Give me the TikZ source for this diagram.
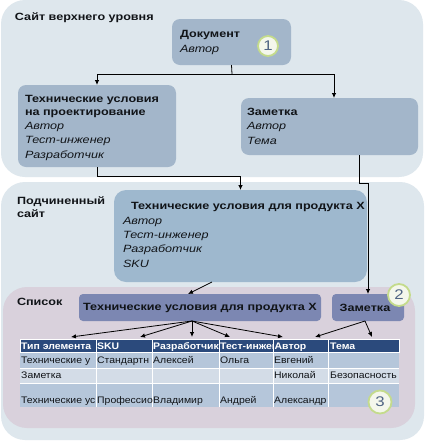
\documentclass[tikz,border=0pt]{standalone}
\usepackage{fontspec}
\setmainfont{Liberation Sans}[FakeStretch=1.2]
\newfontfamily\tblfont{Liberation Sans}[FakeStretch=1.1]
\usetikzlibrary{arrows.meta}
\definecolor{panel}{HTML}{DEE7ED}
\definecolor{listpanel}{HTML}{D9D1DC}
\definecolor{boxc}{HTML}{A3B6CA}
\definecolor{subc}{HTML}{9EB8CE}
\definecolor{listc}{HTML}{7C87B2}
\definecolor{headc}{HTML}{2B4A7C}
\definecolor{rowd}{HTML}{B5C6DA}
\definecolor{rowl}{HTML}{D3DCE7}
\definecolor{badgeline}{HTML}{C4DB8C}
\definecolor{badgefill}{HTML}{F4F7EC}
\definecolor{badgetext}{HTML}{506584}
\definecolor{ink}{HTML}{111418}
\begin{document}
\begin{tikzpicture}[x=1pt,y=-1pt,
  box/.style={draw=none,fill=boxc,rounded corners=8pt,inner sep=0pt,outer sep=0pt},
  txt/.style={inner sep=0pt,outer sep=0pt,align=left,text=ink,font=\fontsize{10.5}{14.3}\selectfont,anchor=base west},
  lbl/.style={inner sep=0pt,outer sep=0pt,align=left,text=ink,font=\fontsize{10.5}{13}\selectfont\bfseries,anchor=base west},
  badge/.style={circle,draw=badgeline,line width=1.8pt,fill=badgefill,inner sep=0pt,text=badgetext,font=\fontsize{14}{14}\selectfont},
  hcell/.style={fill=headc,draw=white,line width=0.6pt,inner sep=0pt,outer sep=0pt,minimum height=13pt},
  htxt/.style={inner sep=0pt,anchor=base west,text=white,font=\tblfont\fontsize{9.5}{10}\selectfont\bfseries},
  ctxt/.style={inner sep=0pt,anchor=base west,text=ink,font=\tblfont\fontsize{9.5}{10}\selectfont},
  conn/.style={line width=0.8pt,draw=black},
  arr/.style={conn,-{Latex[length=5pt,width=4.5pt]}}
]
\useasboundingbox (0,0) rectangle (424,445);
\fill[white] (0,0) rectangle (424,445);
% panels
\fill[panel,rounded corners=24pt] (1,0) rectangle (423,177);
\fill[panel,rounded corners=24pt] (1,182) rectangle (424,440);
\fill[listpanel,rounded corners=24pt] (3,287) rectangle (415,428);

% panel labels
\node[lbl] (ltop) at (15,20) {Сайт верхнего уровня};
\node[lbl] (lsub) at (17,217) {Подчиненный\\сайт};
\node[lbl] (llist) at (17,305) {Список};

% top boxes
\node[box,minimum width=119pt,minimum height=46pt] (doc) at (231.5,42) {};
\node[txt] (doct) at (180,52) {\textbf{Документ}\\\textit{Автор}};
\node[box,minimum width=158pt,minimum height=82pt] (tup) at (97,126) {};
\node[txt] (tupt) at (25,158) {\textbf{Технические условия}\\[-1.3pt]\textbf{на проектирование}\\\textit{Автор}\\\textit{Тест-инженер}\\\textit{Разработчик}};
\node[box,minimum width=177pt,minimum height=57pt] (zam) at (329.5,126.5) {};
\node[txt] (zamt) at (247,144) {\textbf{Заметка}\\\textit{Автор}\\\textit{Тема}};

% subsite box
\node[box,fill=subc,rounded corners=12pt,minimum width=253pt,minimum height=92pt] (sub) at (240.5,236) {};
\node[txt] (subh) at (131,209) {\textbf{Технические условия для продукта X}};
\node[txt] (subt) at (123,267) {\textit{Автор}\\\textit{Тест-инженер}\\\textit{Разработчик}\\\textit{SKU}};

% list boxes
\node[box,fill=listc,rounded corners=4pt,minimum width=242pt,minimum height=27pt,font=\fontsize{10.5}{12}\selectfont\bfseries,text=ink] (ltu) at (200,307.5) {Технические условия для продукта X};
\node[box,fill=listc,rounded corners=4pt,minimum width=72pt,minimum height=27pt] (lzam) at (368,307.5) {};
\node[lbl,anchor=base] (lzamt) at (365,311) {Заметка};

% table
\fill[rowd] (20,352) rectangle (399,368);
\fill[rowl] (20,368) rectangle (399,383);
\fill[rowd] (20,383) rectangle (399,407);
\draw[white,line width=0.6pt] (20,368) -- (399,368) (20,383) -- (399,383);
\foreach \x in {96,152,219,273,328} \draw[white,line width=0.6pt] (\x,352) -- (\x,407);

\node[hcell,minimum width=76pt] (h1) at (58,345.5) {};
\node[hcell,minimum width=56pt] (h2) at (124,345.5) {};
\node[hcell,minimum width=67pt] (h3) at (185.5,345.5) {};
\node[hcell,minimum width=54pt] (h4) at (246,345.5) {};
\node[hcell,minimum width=55pt] (h5) at (300.5,345.5) {};
\node[hcell,minimum width=71pt] (h6) at (363.5,345.5) {};
\node[htxt] (ht1) at (21,349.5) {Тип элемента};
\node[htxt] (ht2) at (97,349.5) {SKU};
\node[htxt] (ht3) at (153,349.5) {Разработчик};
\begin{scope}
\clip (219.5,339) rectangle (272.6,352);
\node[htxt] (ht4) at (220,349.5) {Тест-инжен};
\end{scope}
\node[htxt] (ht5) at (274.5,349.5) {Автор};
\node[htxt] (ht6) at (330,349.5) {Тема};

\node[ctxt] (c11) at (21,363) {Технические у};
\node[ctxt] (c12) at (97,363) {Стандартн};
\node[ctxt] (c13) at (153,363) {Алексей};
\node[ctxt] (c14) at (220,363) {Ольга};
\node[ctxt] (c15) at (274,363) {Евгений};
\node[ctxt] (c21) at (21,378) {Заметка};
\node[ctxt] (c25) at (274,378) {Николай};
\node[ctxt] (c26) at (330,378) {Безопасность};
\node[ctxt] (c31) at (21,403) {Технические ус};
\node[ctxt] (c32) at (97,403) {Профессио};
\node[ctxt] (c33) at (153,403) {Владимир};
\node[ctxt] (c34) at (220,403) {Андрей};
\node[ctxt] (c35) at (274,403) {Александр};

% badges
\node[badge,minimum size=20pt] (b1) at (268,46) {1};
\node[badge,minimum size=22pt] (b2) at (399,295) {2};
\node[badge,minimum size=23pt] (b3) at (380,402) {3};

% connectors
\coordinate (j1) at (232,74);
\draw[conn] (doc.south) -- (j1);
\draw[arr] (j1) -| (tup.north);
\draw[arr] (j1) -| ([xshift=4.5pt]zam.north);
\draw[arr] (tup.south) -- ++(0,9) -| (sub.north);
\draw[arr] ([xshift=29.5pt]zam.south) -- ++(0,28) -| (lzam.north);
\draw[arr] ([xshift=-28.5pt]sub.south) -- ([xshift=-12pt]ltu.north);

\draw[arr] ([xshift=-8pt]ltu.south) -- ([xshift=13pt,yshift=2pt]h1.north);
\draw[arr] ([xshift=-8pt]ltu.south) -- ([xshift=16pt,yshift=2pt]h2.north);
\draw[arr] ([xshift=-8pt]ltu.south) -- ([xshift=6.5pt,yshift=2pt]h3.north);
\draw[arr] ([xshift=-8pt]ltu.south) -- ([xshift=-16pt,yshift=2pt]h4.north);
\draw[arr] ([xshift=-8pt]ltu.south) -- ([xshift=-17.5pt,yshift=2pt]h5.north);
\draw[arr] ([xshift=-3pt]lzam.south) -- ([xshift=14.5pt,yshift=2pt]h5.north);
\draw[arr] ([xshift=-3pt]lzam.south) -- ([xshift=8.5pt,yshift=2pt]h6.north);
\end{tikzpicture}
\end{document}
